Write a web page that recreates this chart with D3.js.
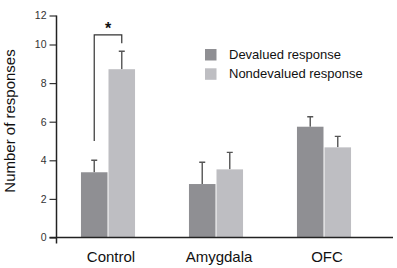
<!DOCTYPE html>
<html>
<head>
<meta charset="utf-8">
<script src="https://cdn.jsdelivr.net/npm/d3@7"></script>
<style>
  body { margin: 0; background: #fff; }
  svg { display: block; font-family: "Liberation Sans", Arial, sans-serif; }
</style>
</head>
<body>
<div id="chart"></div>
<script>
// Data
const groups = ['Control', 'Amygdala', 'OFC'];
const seriesNames = ['Devalued response', 'Nondevalued response'];
const devalued = [3.38, 2.77, 5.74];
const devaluedErr = [0.62, 1.13, 0.52];
const nondevalued = [8.72, 3.53, 4.67];
const nondevaluedErr = [0.93, 0.88, 0.57];
const yTicks = [0, 2, 4, 6, 8, 10, 12];
// significance bracket: left leg bottom, top, right leg bottom (in data units)
const bracket = { group: 'Control', left: 5.0, top: 10.66, right: 10.08, label: '*' };

const colors = ['#8f8f93', '#bebec2'];

const width = 397;
const height = 268;

const svg = d3.select('#chart')
  .append('svg')
  .attr('width', width)
  .attr('height', height);

// the reference axis is slightly compressed above 10
const yScale = d3.scaleLinear()
  .domain([0, 10, 12])
  .range([237.5, 44.5, 15.5]);

const xScale = d3.scaleBand()
  .domain(groups)
  .range([54, 378])
  .paddingInner(0.49)
  .paddingOuter(0.245);

const inner = d3.scaleBand()
  .domain(seriesNames)
  .range([0, xScale.bandwidth()]);

const axisX = 56.5;

// y axis
const yAxis = svg.append('g')
  .attr('transform', `translate(${axisX},0)`)
  .call(d3.axisLeft(yScale).tickValues(yTicks).tickSize(7).tickSizeOuter(0).tickPadding(3));
yAxis.select('.domain').remove();
yAxis.selectAll('.tick line').attr('stroke', '#333').attr('stroke-width', 1.2);
yAxis.selectAll('.tick text')
  .attr('font-size', '10.5px')
  .attr('fill', '#333')
  .attr('font-family', '"Liberation Sans", Arial, sans-serif');

svg.append('line')
  .attr('x1', axisX).attr('x2', axisX)
  .attr('y1', yScale(12)).attr('y2', yScale(0) + 6)
  .attr('stroke', '#222').attr('stroke-width', 1.5);

// bars
const rows = groups.map((g, i) => ({
  group: g,
  values: [
    { name: seriesNames[0], value: devalued[i], err: devaluedErr[i], color: colors[0] },
    { name: seriesNames[1], value: nondevalued[i], err: nondevaluedErr[i], color: colors[1] }
  ]
}));

const groupG = svg.selectAll('.group')
  .data(rows)
  .enter()
  .append('g')
  .attr('transform', d => `translate(${xScale(d.group)},0)`);

// error bars (upper only), drawn behind bars
groupG.selectAll('.err')
  .data(d => d.values)
  .enter()
  .append('path')
  .attr('d', d => {
    const cx = inner(d.name) + inner.bandwidth() / 2;
    const top = yScale(d.value + d.err);
    return `M${cx},${yScale(d.value)}V${top}M${cx - 3},${top}H${cx + 3}`;
  })
  .attr('fill', 'none')
  .attr('stroke', '#555')
  .attr('stroke-width', 1.4);

groupG.selectAll('rect')
  .data(d => d.values)
  .enter()
  .append('rect')
  .attr('x', d => inner(d.name) + 0.5)
  .attr('width', inner.bandwidth() - 1)
  .attr('y', d => yScale(d.value))
  .attr('height', d => yScale(0) - yScale(d.value))
  .attr('fill', d => d.color);

// x axis line
svg.append('line')
  .attr('x1', axisX - 7).attr('x2', 393)
  .attr('y1', yScale(0)).attr('y2', yScale(0))
  .attr('stroke', '#222').attr('stroke-width', 1.5);

// x labels
svg.selectAll('.xlabel')
  .data(groups)
  .enter()
  .append('text')
  .attr('x', d => xScale(d) + xScale.bandwidth() / 2 + 3)
  .attr('y', 261.5)
  .attr('text-anchor', 'middle')
  .attr('font-size', '15px')
  .attr('fill', '#111')
  .text(d => d);

// y label
svg.append('text')
  .attr('transform', 'rotate(-90)')
  .attr('x', -121)
  .attr('y', 15)
  .attr('text-anchor', 'middle')
  .attr('font-size', '15px')
  .attr('fill', '#111')
  .text('Number of responses');

// significance bracket
const bx0 = xScale(bracket.group) + inner(seriesNames[0]) + inner.bandwidth() / 2;
const bx1 = xScale(bracket.group) + inner(seriesNames[1]) + inner.bandwidth() / 2;
svg.append('path')
  .attr('d', `M${bx0},${yScale(bracket.left)}V${yScale(bracket.top)}H${bx1}V${yScale(bracket.right)}`)
  .attr('fill', 'none')
  .attr('stroke', '#333')
  .attr('stroke-width', 1.2);
svg.append('text')
  .attr('x', (bx0 + bx1) / 2)
  .attr('y', yScale(bracket.top) - 1)
  .attr('text-anchor', 'middle')
  .attr('font-size', '16px')
  .attr('font-weight', 'bold')
  .attr('fill', '#111')
  .text(bracket.label);

// legend
const legend = svg.append('g')
  .attr('transform', 'translate(205,49)');
seriesNames.forEach((name, i) => {
  legend.append('rect')
    .attr('x', 0)
    .attr('y', i * 19.3)
    .attr('width', 11.5)
    .attr('height', 11.5)
    .attr('fill', colors[i]);
  legend.append('text')
    .attr('x', 24)
    .attr('y', i * 19 + 9.5)
    .attr('font-size', '13px')
    .attr('fill', '#111')
    .text(name);
});
</script>
</body>
</html>
